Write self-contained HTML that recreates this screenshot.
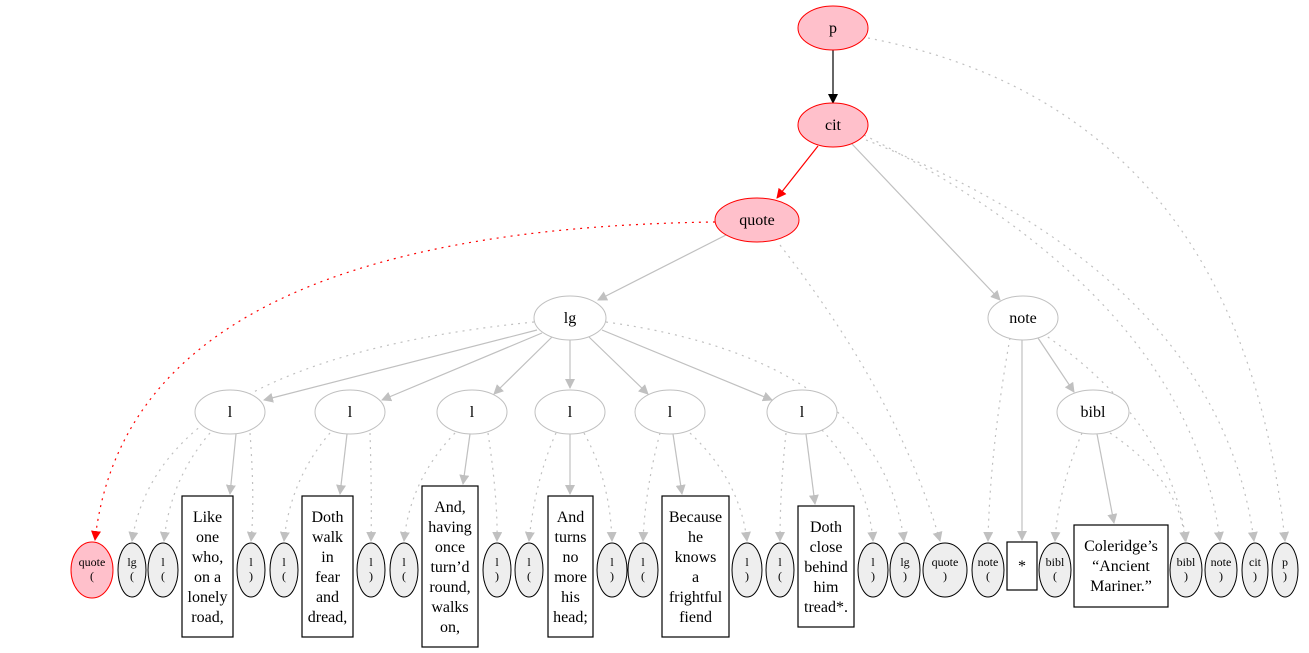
<!DOCTYPE html>
<html><head><meta charset="utf-8"><style>
html,body{margin:0;padding:0;background:#fff;}
svg{display:block;font-family:"Liberation Serif",serif;}
</style></head><body>
<svg width="1309" height="653" viewBox="0 0 1309 653" xmlns="http://www.w3.org/2000/svg">
<defs>
<marker id="ag" markerWidth="10" markerHeight="10" refX="9" refY="5" orient="auto" markerUnits="userSpaceOnUse"><path d="M0,0 L10,5 L0,10 z" fill="#c0c0c0"/></marker>
<marker id="ab" markerWidth="10" markerHeight="10" refX="9" refY="5" orient="auto" markerUnits="userSpaceOnUse"><path d="M0,0 L10,5 L0,10 z" fill="#000"/></marker>
<marker id="ar" markerWidth="10" markerHeight="10" refX="9" refY="5" orient="auto" markerUnits="userSpaceOnUse"><path d="M0,0 L10,5 L0,10 z" fill="red"/></marker>
</defs>
<g fill="none" stroke-width="1.2">
<!-- solid -->
<path d="M833,50 L833,103" stroke="#000" marker-end="url(#ab)"/>
<path d="M818,146 L777,198" stroke="red" marker-end="url(#ar)"/>
<g stroke="#c0c0c0" marker-end="url(#ag)">
<path d="M852,144 L1000,300"/>
<path d="M726,235 L598,300"/>
<path d="M537,330 L264,400"/>
<path d="M542,333 L382,400"/>
<path d="M552,337 L494,394"/>
<path d="M570,340 L570,388"/>
<path d="M589,337 L648,394"/>
<path d="M602,330 L772,400"/>
<path d="M1038,338 L1074,392"/>
<path d="M1022,340 L1022,540"/>
<path d="M236,434 L230,494"/>
<path d="M347,434 L340,494"/>
<path d="M470,434 L463,484"/>
<path d="M570,434 L570,494"/>
<path d="M673,434 L682,494"/>
<path d="M806,434 L815,504"/>
<path d="M1097,434 L1114,523"/>
</g>
<!-- dotted gray -->
<g stroke="#c0c0c0" stroke-dasharray="2,5" marker-end="url(#ag)">
<path d="M868,38 Q1240,110 1285,541"/>
<path d="M866,140 Q1220,280 1254,541"/>
<path d="M864,135 Q1190,300 1220,541"/>
<path d="M780,245 Q900,400 940,541"/>
<path d="M534,322 Q160,360 132,541"/>
<path d="M606,322 Q880,360 904,541"/>
<path d="M210,433 Q170,480 164,541"/>
<path d="M250,433 Q255,500 251,541"/>
<path d="M330,433 Q290,480 284,541"/>
<path d="M370,433 Q372,500 371,541"/>
<path d="M455,433 Q410,480 404,541"/>
<path d="M488,433 Q498,500 497,541"/>
<path d="M556,433 Q535,480 529,541"/>
<path d="M584,433 Q610,480 612,541"/>
<path d="M660,433 Q645,490 643,541"/>
<path d="M690,433 Q740,480 747,541"/>
<path d="M786,433 Q780,490 780,541"/>
<path d="M822,430 Q868,480 873,541"/>
<path d="M1010,338 Q990,450 988,541"/>
<path d="M1042,333 Q1170,420 1186,541"/>
<path d="M1082,433 Q1058,490 1055,541"/>
<path d="M1110,433 Q1180,480 1185,541"/>
</g>
<path d="M715,222 Q130,230 95,540" stroke="red" stroke-dasharray="2,5" marker-end="url(#ar)"/>
</g>
<!-- top nodes -->
<g font-size="16" text-anchor="middle">
<ellipse cx="833" cy="28" rx="35" ry="22" fill="#ffc0cb" stroke="red"/><text x="833" y="33">p</text>
<ellipse cx="833" cy="125" rx="35" ry="22" fill="#ffc0cb" stroke="red"/><text x="833" y="130">cit</text>
<ellipse cx="757" cy="220" rx="42" ry="22" fill="#ffc0cb" stroke="red"/><text x="757" y="225">quote</text>
<g fill="#fff" stroke="#c0c0c0">
<ellipse cx="570" cy="318" rx="36" ry="22"/><ellipse cx="1023" cy="318" rx="35" ry="22"/>
<ellipse cx="230" cy="412" rx="35" ry="22"/><ellipse cx="350" cy="412" rx="35" ry="22"/>
<ellipse cx="472" cy="412" rx="35" ry="22"/><ellipse cx="570" cy="412" rx="35" ry="22"/>
<ellipse cx="670" cy="412" rx="35" ry="22"/><ellipse cx="802" cy="412" rx="35" ry="22"/>
<ellipse cx="1093" cy="412" rx="36" ry="22"/>
</g>
<text x="570" y="323">lg</text><text x="1023" y="323">note</text>
<text x="230" y="417">l</text><text x="350" y="417">l</text><text x="472" y="417">l</text>
<text x="570" y="417">l</text><text x="670" y="417">l</text><text x="802" y="417">l</text>
<text x="1093" y="417">bibl</text>
</g>
<!-- leaf ellipses -->
<g font-size="12" text-anchor="middle">
<ellipse cx="92" cy="570" rx="21" ry="28" fill="#ffc0cb" stroke="red"/><text x="92" y="566">quote</text><text x="92" y="580">(</text>
<g fill="#eeeeee" stroke="#000">
<ellipse cx="132" cy="570" rx="14" ry="27"/><ellipse cx="163" cy="570" rx="15" ry="27"/>
<ellipse cx="251" cy="570" rx="14" ry="27"/><ellipse cx="284" cy="570" rx="14" ry="27"/>
<ellipse cx="371" cy="570" rx="14" ry="27"/><ellipse cx="404" cy="570" rx="14" ry="27"/>
<ellipse cx="497" cy="570" rx="14" ry="27"/><ellipse cx="529" cy="570" rx="14" ry="27"/>
<ellipse cx="612" cy="570" rx="15" ry="27"/><ellipse cx="643" cy="570" rx="15" ry="27"/>
<ellipse cx="747" cy="570" rx="15" ry="27"/><ellipse cx="780" cy="570" rx="14" ry="27"/>
<ellipse cx="873" cy="570" rx="15" ry="27"/><ellipse cx="905" cy="570" rx="15" ry="27"/>
<ellipse cx="945" cy="570" rx="22" ry="27"/><ellipse cx="988" cy="570" rx="16" ry="27"/>
<ellipse cx="1055" cy="570" rx="16" ry="27"/><ellipse cx="1186" cy="570" rx="16" ry="27"/>
<ellipse cx="1221" cy="570" rx="16" ry="27"/><ellipse cx="1255" cy="570" rx="13" ry="27"/>
<ellipse cx="1285" cy="570" rx="13" ry="27"/>
</g>
<g>
<text x="132" y="566">lg</text><text x="132" y="580">(</text>
<text x="163" y="566">l</text><text x="163" y="580">(</text>
<text x="251" y="566">l</text><text x="251" y="580">)</text>
<text x="284" y="566">l</text><text x="284" y="580">(</text>
<text x="371" y="566">l</text><text x="371" y="580">)</text>
<text x="404" y="566">l</text><text x="404" y="580">(</text>
<text x="497" y="566">l</text><text x="497" y="580">)</text>
<text x="529" y="566">l</text><text x="529" y="580">(</text>
<text x="612" y="566">l</text><text x="612" y="580">)</text>
<text x="643" y="566">l</text><text x="643" y="580">(</text>
<text x="747" y="566">l</text><text x="747" y="580">)</text>
<text x="780" y="566">l</text><text x="780" y="580">(</text>
<text x="873" y="566">l</text><text x="873" y="580">)</text>
<text x="905" y="566">lg</text><text x="905" y="580">)</text>
<text x="945" y="566">quote</text><text x="945" y="580">)</text>
<text x="988" y="566">note</text><text x="988" y="580">(</text>
<text x="1055" y="566">bibl</text><text x="1055" y="580">(</text>
<text x="1186" y="566">bibl</text><text x="1186" y="580">)</text>
<text x="1221" y="566">note</text><text x="1221" y="580">)</text>
<text x="1255" y="566">cit</text><text x="1255" y="580">)</text>
<text x="1285" y="566">p</text><text x="1285" y="580">)</text>
</g>
</g>
<!-- boxes -->
<g fill="#fff" stroke="#000" stroke-width="1.2">
<rect x="182" y="496" width="51" height="141"/>
<rect x="302" y="496" width="51" height="141"/>
<rect x="422" y="486" width="56" height="161"/>
<rect x="548" y="496" width="45" height="141"/>
<rect x="662" y="496" width="67" height="141"/>
<rect x="798" y="506" width="56" height="121"/>
<rect x="1007" y="542" width="30" height="48"/>
<rect x="1074" y="525" width="94" height="82"/>
</g>
<g font-size="16" text-anchor="middle">
<text x="207.5" y="522">Like</text><text x="207.5" y="542">one</text><text x="207.5" y="562">who,</text><text x="207.5" y="582">on a</text><text x="207.5" y="602">lonely</text><text x="207.5" y="622">road,</text>
<text x="327.5" y="522">Doth</text><text x="327.5" y="542">walk</text><text x="327.5" y="562">in</text><text x="327.5" y="582">fear</text><text x="327.5" y="602">and</text><text x="327.5" y="622">dread,</text>
<text x="450" y="512">And,</text><text x="450" y="532">having</text><text x="450" y="552">once</text><text x="450" y="572">turn’d</text><text x="450" y="592">round,</text><text x="450" y="612">walks</text><text x="450" y="632">on,</text>
<text x="570.5" y="522">And</text><text x="570.5" y="542">turns</text><text x="570.5" y="562">no</text><text x="570.5" y="582">more</text><text x="570.5" y="602">his</text><text x="570.5" y="622">head;</text>
<text x="695.5" y="522">Because</text><text x="695.5" y="542">he</text><text x="695.5" y="562">knows</text><text x="695.5" y="582">a</text><text x="695.5" y="602">frightful</text><text x="695.5" y="622">fiend</text>
<text x="826" y="532">Doth</text><text x="826" y="552">close</text><text x="826" y="572">behind</text><text x="826" y="592">him</text><text x="826" y="612">tread*.</text>
<text x="1022" y="571">*</text>
<text x="1121" y="551">Coleridge’s</text><text x="1121" y="571">“Ancient</text><text x="1121" y="591">Mariner.”</text>
</g>
</svg>
</body></html>
